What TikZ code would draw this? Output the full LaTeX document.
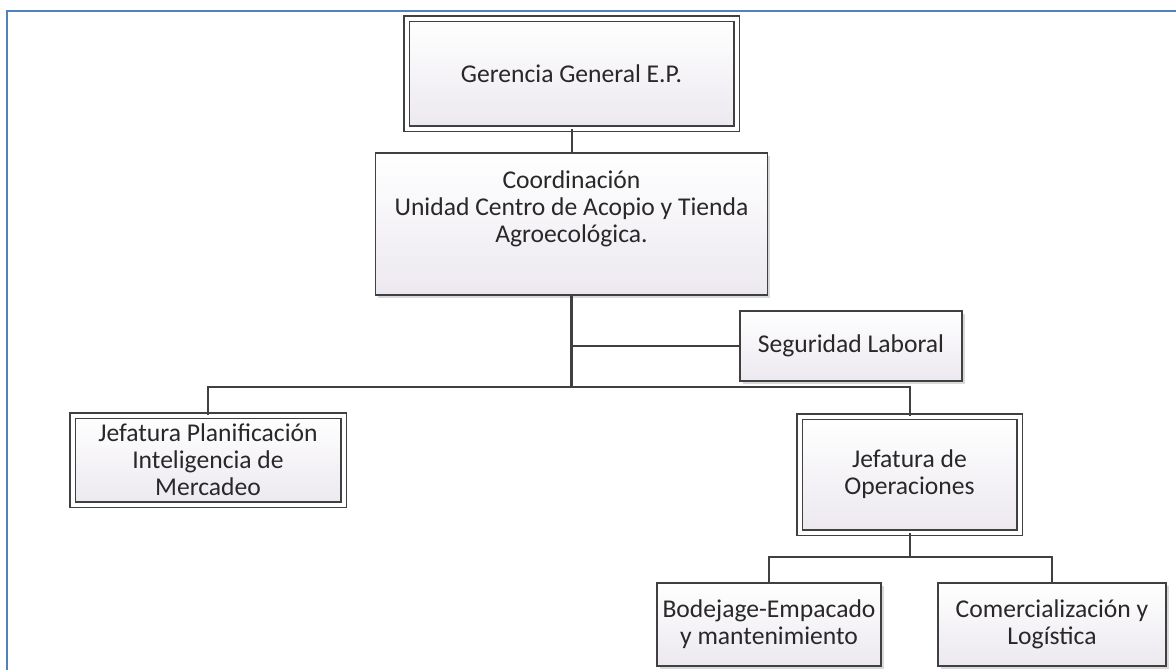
\documentclass[tikz,border=0pt]{standalone}
\usepackage{fontspec}
\setmainfont{Carlito}
\usetikzlibrary{shadows}
\definecolor{marco}{RGB}{79,129,189}
\definecolor{linea}{RGB}{64,64,64}
\definecolor{fondo}{RGB}{236,232,239}
\definecolor{texto}{RGB}{40,40,40}

\begin{document}
\begin{tikzpicture}[x=.5pt, y=-.5pt,
    every node/.style={font=\fontsize{12.8}{13.5}\selectfont, text=texto, align=center, inner sep=2pt},
    unidad/.style={draw=linea, line width=.75pt, top color=white, bottom color=fondo,
        drop shadow={shadow xshift=1.3pt, shadow yshift=-1.3pt, opacity=.3}},
    jefe/.style={unidad, double=white, double distance=2pt, line width=.7pt},
    enlace/.style={draw=linea, line width=1pt}]
        \useasboundingbox (0,0) rectangle (1176,670);
        \draw[marco, line width=1pt] (7,670) -- (7,11) -- (1176,11);

        \node[jefe, minimum width=165pt, minimum height=55pt] (gerencia) at (571.5,73.5) {Gerencia General E.P.};
        \node[unidad, minimum width=196pt, minimum height=71pt] (coord) at (571.5,224) {Coordinación\\Unidad Centro de Acopio y Tienda\\Agroecológica.\\[4pt]};
        \node[unidad, minimum width=111pt, minimum height=35pt] (seguridad) at (851,346) {Seguridad Laboral};
        \node[jefe, minimum width=135.5pt, minimum height=44.5pt] (planif) at (208,460) {Jefatura Planificación\\Inteligencia de\\Mercadeo};
        \node[jefe, minimum width=110pt, minimum height=58pt] (operac) at (909.5,474.5) {Jefatura de\\Operaciones};
        \node[unidad, minimum width=112pt, minimum height=41.5pt] (bodejage) at (769,624.5) {Bodejage-Empacado\\y mantenimiento};
        \node[unidad, minimum width=114pt, minimum height=41.5pt] (comerc) at (1052,624.5) {Comercialización y\\Logística};

        \coordinate (bus) at (571.5,387);
        \coordinate (opbus) at (909.5,557);
        \draw[enlace] (gerencia.south) -- (coord.north);
        \draw[enlace] (coord.south) |- (seguridad.west);
        \draw[enlace, line width=1.4pt] (coord.south) -- (bus);
        \draw[enlace] (planif.north) |- (bus) -| (operac.north);
        \draw[enlace] (operac.south) -- (opbus);
        \draw[enlace] (bodejage.north) |- (opbus) -| (comerc.north);
    \end{tikzpicture}
\end{document}
